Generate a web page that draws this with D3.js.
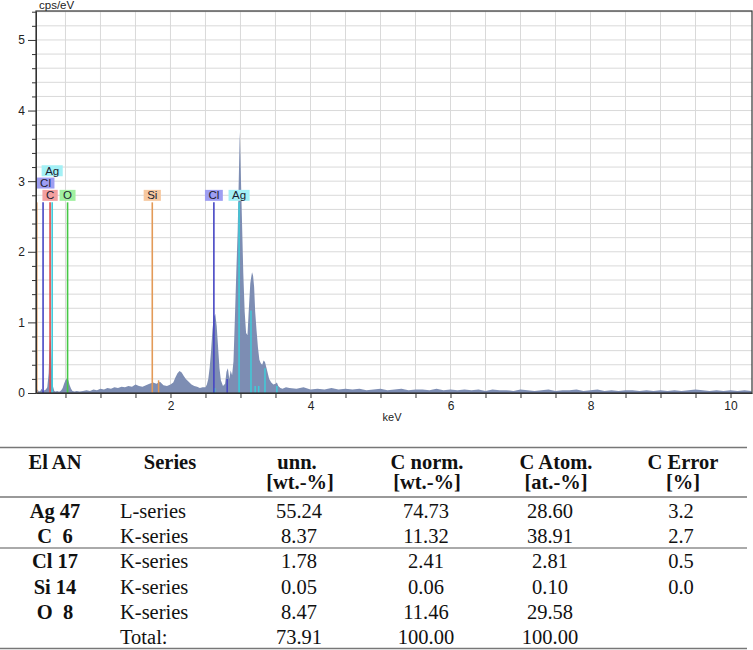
<!DOCTYPE html>
<html>
<head>
<meta charset="utf-8">
<script src="https://cdnjs.cloudflare.com/ajax/libs/d3/7.8.5/d3.min.js"></script>
<style>
  body { margin: 0; background: #fff; }
  svg { display: block; }
  .axis text { font-family: "Liberation Sans", Arial, sans-serif; font-size: 12px; fill: #222; }
  .axis path, .axis line { stroke: #333; }
  .tbl text { font-family: "Liberation Serif", "Times New Roman", serif; font-size: 20.5px; fill: #111; white-space: pre; }
</style>
</head>
<body>
<script>

// spectrum (keV, cps/eV)
const specKeV = [0.08,0.10,0.12,0.14,0.16,0.18,0.20,0.22,0.24,0.26,0.27,0.28,0.29,0.30,0.31,0.32,0.34,0.36,0.38,0.40,
  0.42,0.44,0.46,0.48,0.50,0.52,0.54,0.56,0.58,0.60,0.63,0.66,0.70,0.75,0.80,0.85,0.90,0.95,1.00,1.05,
  1.10,1.15,1.20,1.25,1.30,1.35,1.40,1.45,1.50,1.55,1.60,1.65,1.70,1.75,1.80,1.85,1.90,1.95,2.00,2.04,
  2.07,2.10,2.13,2.16,2.19,2.22,2.26,2.30,2.34,2.38,2.42,2.46,2.50,2.52,2.54,2.56,2.58,2.60,2.62,2.64,
  2.66,2.68,2.70,2.72,2.75,2.78,2.80,2.82,2.84,2.86,2.88,2.90,2.92,2.94,2.96,2.975,2.99,3.005,3.02,3.04,
  3.06,3.08,3.10,3.12,3.14,3.15,3.165,3.18,3.195,3.21,3.23,3.25,3.27,3.29,3.31,3.33,3.35,3.37,3.39,3.41,
  3.44,3.47,3.50,3.52,3.54,3.57,3.60,3.65,3.70,3.80,3.90,4.00,4.10,4.20,4.30,4.40,4.50,4.60,4.70,4.80,
  4.90,5.00,5.10,5.20,5.30,5.40,5.50,5.60,5.70,5.80,5.90,6.00,6.10,6.20,6.30,6.40,6.50,6.60,6.70,6.80,
  6.90,7.00,7.10,7.20,7.30,7.40,7.50,7.60,7.70,7.80,7.90,8.00,8.10,8.20,8.30,8.40,8.50,8.60,8.70,8.80,
  8.90,9.00,9.10,9.20,9.30,9.40,9.50,9.60,9.70,9.80,9.90,10.00,10.10,10.20,10.30];
const specCps = [0.02,0.05,0.02,0.03,0.06,0.03,0.04,0.05,0.08,0.28,0.58,0.78,0.72,0.50,0.24,0.10,0.03,0.02,0.03,0.02,
  0.02,0.04,0.07,0.13,0.18,0.21,0.18,0.11,0.06,0.03,0.02,0.03,0.02,0.03,0.04,0.03,0.05,0.04,0.06,0.05,
  0.07,0.06,0.08,0.07,0.09,0.08,0.10,0.09,0.12,0.10,0.09,0.11,0.13,0.15,0.13,0.16,0.11,0.10,0.12,0.15,
  0.22,0.28,0.31,0.29,0.24,0.20,0.16,0.12,0.10,0.09,0.07,0.08,0.08,0.12,0.20,0.36,0.60,0.90,1.08,1.12,
  0.95,0.65,0.35,0.18,0.10,0.13,0.30,0.35,0.20,0.32,0.25,0.45,1.05,1.70,2.30,3.00,3.70,3.10,2.50,1.70,
  1.15,0.85,0.82,1.20,1.55,1.62,1.71,1.66,1.50,1.15,0.88,0.64,0.47,0.42,0.40,0.46,0.44,0.36,0.28,0.20,
  0.15,0.12,0.13,0.15,0.10,0.07,0.06,0.08,0.07,0.06,0.08,0.05,0.06,0.05,0.07,0.05,0.06,0.05,0.06,0.04,
  0.05,0.06,0.04,0.05,0.06,0.04,0.05,0.05,0.04,0.06,0.04,0.05,0.04,0.05,0.04,0.05,0.03,0.05,0.04,0.04,
  0.03,0.05,0.04,0.03,0.04,0.05,0.03,0.04,0.04,0.05,0.03,0.04,0.05,0.03,0.04,0.03,0.04,0.04,0.03,0.04,
  0.03,0.04,0.03,0.04,0.03,0.04,0.05,0.04,0.03,0.04,0.03,0.04,0.03,0.04,0.03];

// element marker lines that reach up to the labels
const markEl  = ["Si", "Cl", "C", "Ag", "O", "Si", "Cl", "Ag"];
const markKeV = [0.09, 0.18, 0.28, 0.31, 0.53, 1.74, 2.62, 2.98];
const markTop = 2.7;

// short lines inside the spectrum
const peakEl  = ["Si", "Ag", "Cl", "Ag", "Ag", "Ag", "Ag", "Ag"];
const peakKeV = [1.83, 2.63, 2.81, 3.15, 3.21, 3.26, 3.35, 3.52];
const peakCps = [0.18, 0.07, 0.20, 1.17, 0.10, 0.10, 0.35, 0.10];

// label boxes
const labelEl  = ["C", "O", "Cl", "Ag", "Si", "Cl", "Ag"];
const labelKeV = [0.28, 0.53, 0.215, 0.31, 1.74, 2.62, 2.98];
const labelRow = [0, 0, 1, 2, 0, 0, 0];

const yMajor = [0, 1, 2, 3, 4, 5];
const yMinor = d3.range(0.2, 5.41, 0.2).filter(v => Math.abs(v - Math.round(v)) > 0.01);
const xTicks = d3.range(0.5, 10.01, 0.5);

// table
const head1   = ["El AN", "Series", "unn.", "C norm.", "C Atom.", "C Error"];
const head2   = ["", "", "[wt.-%]", "[wt.-%]", "[at.-%]", "[%]"];
const elAN    = ["Ag 47", "C  6", "Cl 17", "Si 14", "O  8", ""];
const series  = ["L-series", "K-series", "K-series", "K-series", "K-series", "Total:"];
const unn     = ["55.24", "8.37", "1.78", "0.05", "8.47", "73.91"];
const cNorm   = ["74.73", "11.32", "2.41", "0.06", "11.46", "100.00"];
const cAtom   = ["28.60", "38.91", "2.81", "0.10", "29.58", "100.00"];
const cError  = ["3.2", "2.7", "0.5", "0.0", "", ""];

const lineColor = { Ag: "#3fcbd9", Cl: "#4646c4", C: "#e04a4a", O: "#45c845", Si: "#e39a58" };
const boxColor  = { Ag: "#a3f0f5", Cl: "#9e9ef2", C: "#f3a0a0", O: "#a0f0a0", Si: "#f6c8a0" };

const svg = d3.select("body").append("svg")
  .attr("width", 753).attr("height", 650);

const x = d3.scaleLinear().domain([0.079, 10.307]).range([36, 752]);
const y = d3.scaleLinear().domain([0, 5.41]).range([393, 11]);

const plot = svg.append("g");

// grid
plot.append("g").selectAll("line").data(xTicks).join("line")
  .attr("x1", d => x(d)).attr("x2", d => x(d))
  .attr("y1", y(0)).attr("y2", y(5.41))
  .attr("stroke", "#d9d9d9").attr("stroke-width", 1);
plot.append("g").selectAll("line").data(d3.range(0.2, 5.41, 0.2)).join("line")
  .attr("x1", x.range()[0]).attr("x2", x.range()[1])
  .attr("y1", d => y(d)).attr("y2", d => y(d))
  .attr("stroke", "#d9d9d9").attr("stroke-width", 1);

// spectrum
const spec = specKeV.map((k, i) => ({ k: k, v: specCps[i] }));
const area = d3.area()
  .x(d => x(d.k))
  .y0(y(0))
  .y1(d => y(d.v));
plot.append("path").datum(spec)
  .attr("d", area)
  .attr("fill", "#7d8db3");

// short peak lines
plot.append("g").selectAll("line").data(peakKeV).join("line")
  .attr("x1", d => x(d)).attr("x2", d => x(d))
  .attr("y1", y(0)).attr("y2", (d, i) => y(peakCps[i]))
  .attr("stroke", (d, i) => lineColor[peakEl[i]]).attr("stroke-width", 1.5);

// marker lines
plot.append("g").selectAll("line").data(markKeV).join("line")
  .attr("x1", d => x(d)).attr("x2", d => x(d))
  .attr("y1", y(0)).attr("y2", y(markTop))
  .attr("stroke", (d, i) => lineColor[markEl[i]]).attr("stroke-width", 1.6);

// labels
labelEl.forEach((el, i) => {
  const cx = x(labelKeV[i]);
  const top = y(markTop) - 12.5 - labelRow[i] * 12.3;
  const g = plot.append("g");
  const rect = g.append("rect").attr("y", top).attr("height", 11).attr("fill", boxColor[el]);
  const t = g.append("text")
    .attr("x", cx).attr("y", top + 9.6)
    .attr("text-anchor", "middle")
    .style("font-family", "'Liberation Sans', Arial, sans-serif")
    .style("font-size", "11.5px")
    .attr("fill", "#1c1c30")
    .text(el);
  const w = t.node().getComputedTextLength() + 7;
  rect.attr("x", cx - w / 2).attr("width", w);
});

// axes
const yAxis = d3.axisLeft(y).tickValues(yMajor).tickSize(8).tickSizeOuter(0).tickPadding(3).tickFormat(d3.format("d"));
plot.append("g").attr("class", "axis").attr("transform", "translate(36,0)").call(yAxis);
const yMinorAxis = d3.axisLeft(y).tickValues(yMinor).tickSize(4).tickSizeOuter(0).tickFormat("");
plot.append("g").attr("class", "axis").attr("transform", "translate(36,0)").call(yMinorAxis)
  .select(".domain").remove();

const xAxis = d3.axisBottom(x).tickValues(xTicks).tickSize(5).tickSizeOuter(0).tickPadding(3)
  .tickFormat(d => (Math.abs(d % 2) < 1e-9 ? d3.format("d")(d) : ""));
plot.append("g").attr("class", "axis").attr("transform", "translate(0,393)").call(xAxis);

// frame
plot.append("rect")
  .attr("x", 36).attr("y", 11).attr("width", 716).attr("height", 382)
  .attr("fill", "none").attr("stroke", "#333").attr("stroke-width", 1.2);

plot.append("text").attr("x", 39).attr("y", 8.5)
  .style("font-family", "'Liberation Sans', Arial, sans-serif").style("font-size", "11.5px")
  .attr("fill", "#222").text("cps/eV");
plot.append("text").attr("x", 392).attr("y", 421).attr("text-anchor", "middle")
  .style("font-family", "'Liberation Sans', Arial, sans-serif").style("font-size", "11px")
  .attr("fill", "#222").text("keV");

// table
const tbl = svg.append("g").attr("class", "tbl");
const colX = [55, 120, 299, 426, 550, 681];
const headX = [55, 170, 297, 427, 556, 683];
const rowY = [518, 543, 568, 593.5, 618.5, 643.5];

[[447.5, "#777", 1.3], [497, "#777", 1.3], [548, "#aaa", 2], [648.5, "#777", 1.3]].forEach(l => {
  tbl.append("line").attr("x1", 0).attr("x2", 747).attr("y1", l[0]).attr("y2", l[0])
    .attr("stroke", l[1]).attr("stroke-width", l[2]);
});

head1.forEach((h, i) => {
  tbl.append("text").attr("x", headX[i]).attr("y", 469).attr("text-anchor", "middle")
    .attr("font-weight", "bold").text(h);
  if (head2[i]) {
    tbl.append("text").attr("x", i === 2 ? 300 : headX[i]).attr("y", 489).attr("text-anchor", "middle")
      .attr("font-weight", "bold").text(head2[i]);
  }
});

const cols = [elAN, series, unn, cNorm, cAtom, cError];
cols.forEach((col, c) => {
  col.forEach((v, r) => {
    if (!v) return;
    tbl.append("text")
      .attr("x", colX[c])
      .attr("y", rowY[r])
      .attr("text-anchor", c === 1 ? "start" : "middle")
      .attr("font-weight", c === 0 ? "bold" : "normal")
      .text(v);
  });
});

</script>
</body>
</html>
